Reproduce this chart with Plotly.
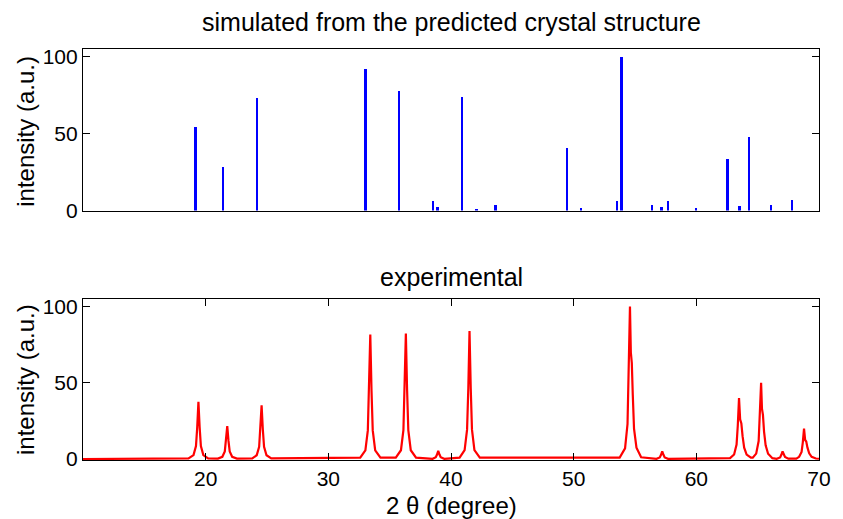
import plotly.graph_objects as go

# ---- simulated pattern (stick positions / relative intensities) ----
sim_two_theta = [19.19, 21.44, 24.18, 33.05, 35.79, 38.53, 38.93, 40.94, 42.10, 43.66,
                 49.48, 50.61, 53.55, 53.92, 56.41, 57.17, 57.70, 59.99, 62.57, 63.54,
                 64.31, 66.12, 67.81]
sim_intensity = [54, 28, 73, 92, 78, 6.3, 2.4, 73.6, 0.6, 3.7,
                 40.9, 1.5, 6.3, 100, 3.7, 2.2, 6.3, 1.7, 33.6, 2.8,
                 47.6, 3.7, 6.9]

# ---- experimental pattern ----
exp_two_theta = [
    10.0,
    18.6, 19.01, 19.21, 19.31, 19.41, 19.51, 19.61, 19.81, 20.2,
    21.0, 21.36, 21.56, 21.66, 21.76, 21.86, 21.96, 22.16, 22.55,
    23.8, 24.16, 24.36, 24.46, 24.56, 24.66, 24.76, 24.96, 25.35,
    32.6, 33.02, 33.22, 33.32, 33.42, 33.52, 33.62, 33.82, 34.25,
    35.5, 35.92, 36.12, 36.22, 36.32, 36.42, 36.52, 36.72, 37.15,
    38.5, 38.76, 38.86, 38.96, 39.06, 39.16, 39.45,
    40.7, 41.11, 41.31, 41.41, 41.51, 41.61, 41.71, 41.91, 42.35,
    53.75, 54.19, 54.39, 54.49, 54.59, 54.66, 54.74, 54.82, 54.92, 55.12, 55.5,
    56.75, 57.02, 57.12, 57.22, 57.32, 57.42, 57.7,
    62.75, 63.08, 63.28, 63.38, 63.48, 63.57, 63.67, 63.77, 63.9, 64.1, 64.45,
    64.6, 64.88, 65.08, 65.18, 65.28, 65.35, 65.43, 65.52, 65.65, 65.85, 66.2,
    66.55, 66.83, 66.93, 67.03, 67.13, 67.23, 67.5,
    68.15, 68.38, 68.58, 68.68, 68.78, 68.87, 68.96, 69.06, 69.2, 69.4, 69.75,
    70.0,
]
exp_intensity = [
    0.0,
    0.5, 2.6, 8.6, 20.6, 37.5, 20.6, 8.6, 2.6, 0.5,
    0.3, 1.5, 5.0, 11.9, 21.6, 11.9, 5.0, 1.5, 0.3,
    0.5, 2.5, 8.1, 19.4, 35.3, 19.4, 8.1, 2.5, 0.5,
    0.9, 5.7, 18.8, 44.9, 81.6, 44.9, 18.8, 5.7, 0.9,
    0.9, 5.8, 18.9, 45.3, 82.3, 45.3, 18.9, 5.8, 0.9,
    0.2, 1.2, 3.0, 5.4, 3.0, 1.2, 0.2,
    0.9, 5.9, 19.3, 46.2, 84.0, 46.2, 19.3, 5.9, 0.9,
    1.0, 7.0, 23.0, 55.0, 100.0, 70.0, 63.0, 42.0, 20.0, 7.5, 1.2,
    0.2, 1.1, 2.8, 5.0, 2.8, 1.1, 0.2,
    0.6, 3.0, 9.5, 22.0, 40.0, 26.0, 23.4, 15.0, 7.5, 3.0, 0.9,
    0.9, 3.6, 11.8, 27.5, 50.0, 33.0, 29.0, 18.0, 9.0, 3.5, 0.6,
    0.2, 1.1, 2.8, 5.0, 3.2, 1.4, 0.3,
    0.3, 1.5, 4.7, 11.0, 20.0, 12.5, 11.5, 7.5, 3.8, 1.5, 0.4,
    0.2,
]

x_ticks = [20, 30, 40, 50, 60, 70]
y_ticks = [0, 50, 100]

FONT = "Liberation Sans, Arial, Helvetica, sans-serif"

fig = go.Figure()
fig.add_trace(go.Bar(x=sim_two_theta, y=sim_intensity, width=0.15,
                     marker=dict(color="#0000ff", line=dict(width=0)),
                     xaxis="x", yaxis="y", showlegend=False))
fig.add_trace(go.Scatter(x=exp_two_theta, y=exp_intensity, mode="lines",
                         line=dict(color="#ff0000", width=2.2),
                         xaxis="x2", yaxis="y2", showlegend=False))

axis_common = dict(showgrid=False, zeroline=False, showline=True, linecolor="black",
                   linewidth=1.2, tickcolor="black", ticklen=7, tickwidth=1,
                   ticklabeloverflow="allow",
                   tickfont=dict(family=FONT, size=21, color="black"))

fig.update_layout(
    width=843, height=519,
    autosize=False,
    margin=dict(l=83, r=15, t=49, b=59),
    paper_bgcolor="white", plot_bgcolor="white",
    font=dict(family=FONT, color="black"),
    bargap=0,
    xaxis=dict(domain=[0, 1], anchor="y", range=[10, 70], showticklabels=False,
               ticks="", mirror=True, **axis_common),
    yaxis=dict(domain=[0.607, 1], anchor="x", range=[0, 105], tickvals=y_ticks,
               ticks="inside", mirror="ticks", **axis_common),
    xaxis2=dict(domain=[0, 1], anchor="y2", range=[10, 70], tickvals=x_ticks,
                ticks="inside", mirror="ticks", **axis_common),
    yaxis2=dict(domain=[0, 0.392], anchor="x2", range=[-0.6, 105], tickvals=y_ticks,
                ticks="inside", mirror="ticks", **axis_common),
    annotations=[
        dict(text="simulated from the predicted crystal structure", x=0.5, y=1.0657,
             xref="paper", yref="paper", showarrow=False, xanchor="center", yanchor="middle",
             font=dict(family=FONT, size=25, color="black")),
        dict(text="experimental", x=0.5, y=0.445,
             xref="paper", yref="paper", showarrow=False, xanchor="center", yanchor="middle",
             font=dict(family=FONT, size=25, color="black")),
        dict(text="intensity (a.u.)", x=-0.078, y=0.80, textangle=-90,
             xref="paper", yref="paper", showarrow=False, xanchor="center", yanchor="middle",
             font=dict(family=FONT, size=24, color="black")),
        dict(text="intensity (a.u.)", x=-0.078, y=0.196, textangle=-90,
             xref="paper", yref="paper", showarrow=False, xanchor="center", yanchor="middle",
             font=dict(family=FONT, size=24, color="black")),
        dict(text="2 θ (degree)", x=0.5, y=-0.1095,
             xref="paper", yref="paper", showarrow=False, xanchor="center", yanchor="middle",
             font=dict(family=FONT, size=24, color="black")),
    ],
)

fig.write_html(
    "out.html",
    config={"responsive": False, "displayModeBar": False},
    post_script="document.body.style.margin='0px';document.body.style.overflow='hidden';",
)
